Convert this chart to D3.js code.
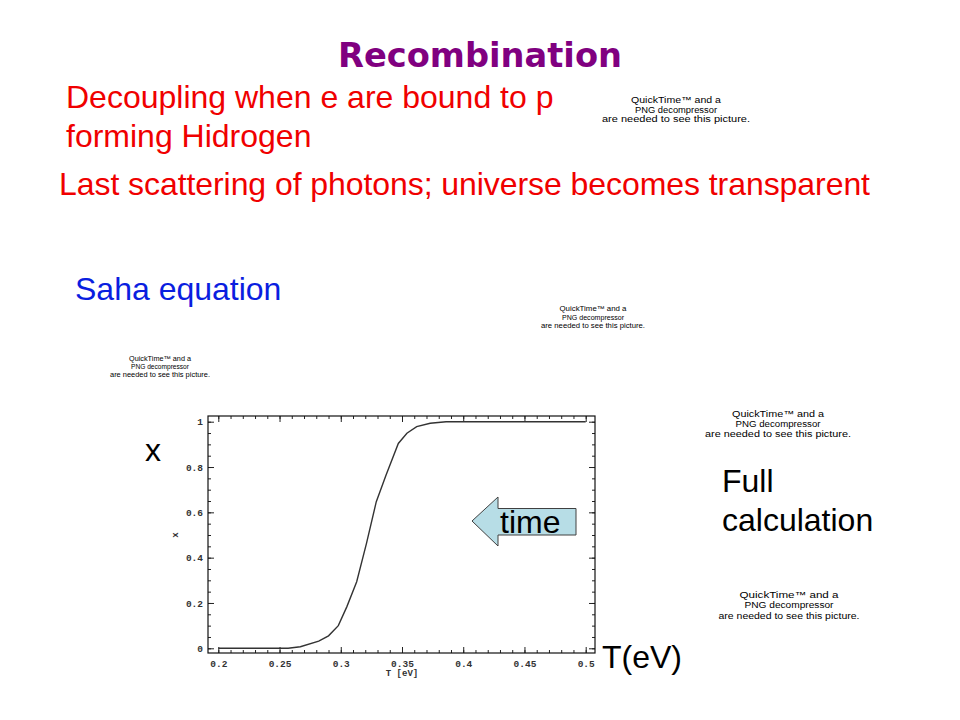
<!DOCTYPE html>
<html>
<head>
<meta charset="utf-8">
<script src="https://cdn.jsdelivr.net/npm/d3@7/dist/d3.min.js"></script>
<style>
  html, body { margin: 0; padding: 0; background: #fff; }
  svg { display: block; }
</style>
</head>
<body>
<svg id="chart" width="960" height="720"></svg>
<script>
// ---- Data ----
const T_eV   = [0.2, 0.257, 0.267, 0.282, 0.290, 0.298, 0.305, 0.313, 0.321, 0.329, 0.337, 0.347, 0.354, 0.362, 0.373, 0.386, 0.5];
const ionX   = [0, 0, 0.007, 0.032, 0.055, 0.100, 0.184, 0.294, 0.463, 0.647, 0.765, 0.904, 0.949, 0.978, 0.993, 1.0, 1.0];
const xTickValues = [0.2, 0.25, 0.3, 0.35, 0.4, 0.45, 0.5];
const xTickLabels = ["0.2", "0.25", "0.3", "0.35", "0.4", "0.45", "0.5"];
const yTickValues = [0, 0.2, 0.4, 0.6, 0.8, 1];
const yTickLabels = ["0", "0.2", "0.4", "0.6", "0.8", "1"];
const xMinorTicks = d3.range(20, 51).map(d => d / 100);
const yMinorTicks = d3.range(0, 21).map(d => d / 20);

const titleText = "Recombination";
const redLines = ["Decoupling when e are bound to p", "forming Hidrogen", "Last scattering of photons; universe becomes transparent"];
const qtLines = ["QuickTime\u2122 and a", "PNG decompressor", "are needed to see this picture."];

const svg = d3.select("#chart");
const sans = "'Liberation Sans', Arial, sans-serif";
const mono = "'Liberation Mono', 'Courier New', monospace";

// ---- Title ----
svg.append("text")
  .attr("x", 480).attr("y", 67)
  .attr("text-anchor", "middle")
  .attr("font-family", "'DejaVu Sans', Verdana, sans-serif")
  .attr("font-weight", "bold")
  .attr("font-size", 34)
  .attr("fill", "#800080")
  .attr("textLength", 284)
  .attr("lengthAdjust", "spacingAndGlyphs")
  .text(titleText);

// ---- Red text ----
const redPos = [[66, 108], [66, 146.5], [59, 195]];
redLines.forEach((t, i) => {
  svg.append("text")
    .attr("x", redPos[i][0]).attr("y", redPos[i][1])
    .attr("font-family", sans).attr("font-size", 32)
    .attr("fill", "#f00000")
    .attr("textLength", i === 2 ? 811 : null)
    .text(t);
});

svg.append("text")
  .attr("x", 75).attr("y", 300)
  .attr("font-family", sans).attr("font-size", 32)
  .attr("fill", "#0a1ee0")
  .text("Saha equation");

// ---- QuickTime placeholders ----
const placeholders = [
  { cx: 676, ys: [103, 113, 122], fs: 8.5, ws: [90, 82, 148] },
  { cx: 593, ys: [311, 320, 328], fs: 7,   ws: [67, 62, 104] },
  { cx: 160, ys: [361, 369, 377], fs: 7,   ws: [62, 58, 100] },
  { cx: 778, ys: [417, 427, 437], fs: 8.5, ws: [92, 85, 146] },
  { cx: 789, ys: [598, 608, 619], fs: 8.5, ws: [99, 89, 141] }
];
placeholders.forEach(p => {
  qtLines.forEach((t, i) => {
    svg.append("text")
      .attr("x", p.cx).attr("y", p.ys[i])
      .attr("text-anchor", "middle")
      .attr("font-family", sans).attr("font-size", p.fs)
      .attr("fill", "#000")
      .attr("textLength", p.ws[i])
      .attr("lengthAdjust", "spacingAndGlyphs")
      .text(t);
  });
});

// ---- Plot ----
const frame = { left: 208, top: 416, right: 595, bottom: 653 };
const x = d3.scaleLinear().domain([0.2, 0.5]).range([218.3, 585.7]);
const y = d3.scaleLinear().domain([0, 1]).range([648.3, 421.7]);

const plot = svg.append("g");

function styleAxis(g) {
  g.select(".domain").remove();
  g.selectAll(".tick line").attr("stroke", "#222").attr("stroke-width", 1);
  g.selectAll(".tick text").attr("font-family", mono).attr("font-size", 9.5)
    .attr("font-weight", "bold").attr("fill", "#333");
}

// bottom
plot.append("g").attr("transform", `translate(0,${frame.bottom})`)
  .call(d3.axisBottom(x).tickValues(xTickValues).tickSize(-6).tickPadding(7.3)
    .tickFormat((d, i) => xTickLabels[i]))
  .call(styleAxis);
plot.append("g").attr("transform", `translate(0,${frame.bottom})`)
  .call(d3.axisBottom(x).tickValues(xMinorTicks).tickSize(-3).tickFormat(""))
  .call(styleAxis);
// top
plot.append("g").attr("transform", `translate(0,${frame.top})`)
  .call(d3.axisTop(x).tickValues(xTickValues).tickSize(-6).tickFormat(""))
  .call(styleAxis);
plot.append("g").attr("transform", `translate(0,${frame.top})`)
  .call(d3.axisTop(x).tickValues(xMinorTicks).tickSize(-3).tickFormat(""))
  .call(styleAxis);
// left
plot.append("g").attr("transform", `translate(${frame.left},0)`)
  .call(d3.axisLeft(y).tickValues(yTickValues).tickSize(-6).tickPadding(5)
    .tickFormat((d, i) => yTickLabels[i]))
  .call(styleAxis);
plot.append("g").attr("transform", `translate(${frame.left},0)`)
  .call(d3.axisLeft(y).tickValues(yMinorTicks).tickSize(-3).tickFormat(""))
  .call(styleAxis);
// right
plot.append("g").attr("transform", `translate(${frame.right},0)`)
  .call(d3.axisRight(y).tickValues(yTickValues).tickSize(-6).tickFormat(""))
  .call(styleAxis);
plot.append("g").attr("transform", `translate(${frame.right},0)`)
  .call(d3.axisRight(y).tickValues(yMinorTicks).tickSize(-3).tickFormat(""))
  .call(styleAxis);

// frame
plot.append("rect")
  .attr("x", frame.left).attr("y", frame.top)
  .attr("width", frame.right - frame.left).attr("height", frame.bottom - frame.top)
  .attr("fill", "none").attr("stroke", "#111").attr("stroke-width", 1.2);

// curve
const line = d3.line().x((d, i) => x(T_eV[i])).y(d => y(d)).curve(d3.curveLinear);
plot.append("path")
  .attr("d", line(ionX))
  .attr("fill", "none").attr("stroke", "#333").attr("stroke-width", 1.4);

// axis titles (inside graphic)
plot.append("text")
  .attr("x", 402).attr("y", 676)
  .attr("text-anchor", "middle")
  .attr("font-family", mono).attr("font-size", 9).attr("font-weight", "bold").attr("fill", "#333")
  .text("T [eV]");
plot.append("text")
  .attr("transform", "translate(178,535) rotate(-90)")
  .attr("text-anchor", "middle")
  .attr("font-family", mono).attr("font-size", 9).attr("font-weight", "bold").attr("fill", "#333")
  .text("x");

// ---- Slide labels ----
svg.append("text").attr("x", 145).attr("y", 461)
  .attr("font-family", sans).attr("font-size", 32).attr("fill", "#000").text("x");
svg.append("text").attr("x", 602).attr("y", 668)
  .attr("font-family", sans).attr("font-size", 32).attr("fill", "#000").text("T(eV)");
svg.append("text").attr("x", 722).attr("y", 492)
  .attr("font-family", sans).attr("font-size", 32).attr("fill", "#000").text("Full");
svg.append("text").attr("x", 722).attr("y", 531)
  .attr("font-family", sans).attr("font-size", 32).attr("fill", "#000").text("calculation");

// ---- time arrow ----
const arrowPts = [[472, 521], [498, 497], [498, 508.5], [576, 508.5], [576, 535], [498, 535], [498, 546]];
svg.append("polygon")
  .attr("points", arrowPts.map(p => p.join(",")).join(" "))
  .attr("fill", "#b7dde6").attr("stroke", "#404040").attr("stroke-width", 1);
svg.append("text").attr("x", 500).attr("y", 533)
  .attr("font-family", sans).attr("font-size", 32).attr("fill", "#000").text("time");
</script>
</body>
</html>
